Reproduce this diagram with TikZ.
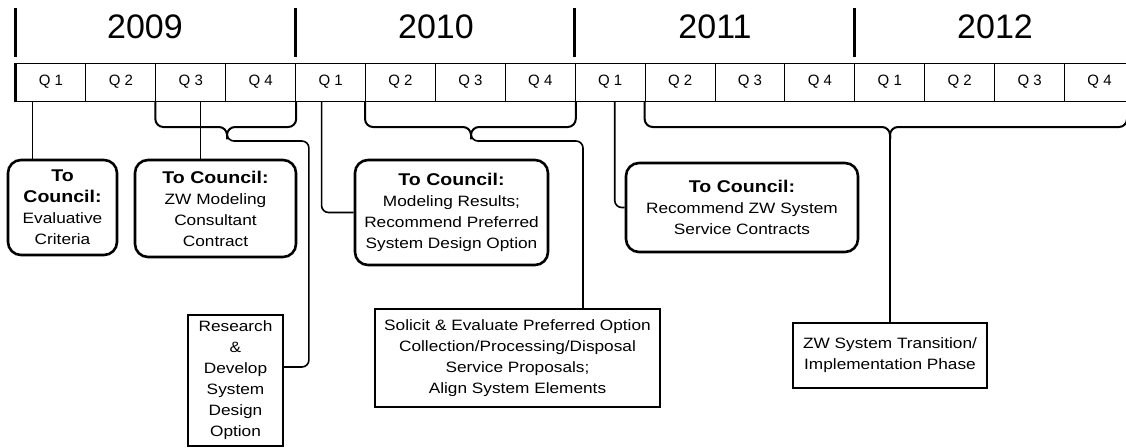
\documentclass[tikz,border=0pt]{standalone}
\usepackage{fontspec}
\setmainfont{Liberation Sans}[FakeStretch=1.15]
\newfontfamily\plainfont{Liberation Sans}
\usepackage{tikz}
\tikzstyle{qcell}=[draw,line width=1pt,minimum width=69.9pt,minimum height=38pt,inner sep=0pt,font=\plainfont\fontsize{15}{18}\selectfont]
\tikzstyle{council}=[draw,line width=2.6pt,rounded corners=13pt,align=center,inner sep=0pt,font=\fontsize{15}{21}\selectfont]
\tikzstyle{taskbox}=[draw,line width=1.8pt,align=center,inner sep=0pt,font=\fontsize{15}{21}\selectfont]
\tikzstyle{quarterbrace}=[line width=2pt,rounded corners=8pt]
\tikzstyle{link}=[line width=1.6pt,rounded corners=7pt]
\newcommand{\hdr}[1]{{\fontsize{17}{21}\selectfont\bfseries #1}}

\begin{document}
\begin{tikzpicture}[x=1pt,y=-1pt]
\clip (0,0) rectangle (1126,447);
\fill[white] (0,0) rectangle (1126,447);
\foreach \i [evaluate=\i as \n using {int(mod(\i,4)+1)}] in {0,...,15}
  \node[qcell] (q\i) at ({51+69.9*\i},82) {Q \n};
\draw[line width=2.5pt] (q0.north west) -- (q0.south west);
\foreach \yr/\xc/\i in {2009/145/0,2010/436/4,2011/715/8,2012/995/12}{
  \draw[line width=2.8pt] ([yshift=6pt]q\i.north west) -- ++(0,-49);
  \node[font=\plainfont\fontsize{34}{34}\selectfont] (y\yr) at (\xc,27) {\yr};
}

\node[council,minimum width=109pt,minimum height=95pt] (crit) at (62.5,207.5)
  {\hdr{To}\\\hdr{Council:}\\Evaluative\\Criteria};
\node[council,minimum width=161pt,minimum height=97pt] (consult) at (215.5,208.5)
  {\hdr{To Council:}\\ZW Modeling\\Consultant\\Contract};
\node[council,minimum width=193pt,minimum height=105pt] (results) at (451.5,212.5)
  {\hdr{To Council:}\\Modeling Results;\\Recommend Preferred\\System Design Option};
\node[council,minimum width=232pt,minimum height=89pt] (services) at (742,207.5)
  {\hdr{To Council:}\\Recommend ZW System\\Service Contracts};
\node[taskbox,minimum width=95pt,minimum height=131pt] (research) at (235.5,380.5)
  {Research\\\&\\Develop\\System\\Design\\Option};
\node[taskbox,minimum width=285pt,minimum height=98pt] (solicit) at (517.5,358)
  {Solicit \& Evaluate Preferred Option\\Collection/Processing/Disposal\\Service Proposals;\\Align System Elements};
\node[taskbox,minimum width=194pt,minimum height=65pt] (transition) at (890,355.5)
  {ZW System Transition/\\Implementation Phase};

\coordinate (c1) at ([xshift=17pt]q0.south west);
\coordinate (c2) at ([xshift=45pt]q2.south west);
\coordinate (c3) at ([xshift=26.4pt]q4.south west);
\coordinate (c4) at ([xshift=40pt]q8.south west);
\draw[link] (c1) -- (c1 |- crit.north);
\draw[link] (c2) -- (c2 |- consult.north);
\draw[link] (c3) |- (results.west);
\draw[link] (c4) |- (services.west);

\coordinate (b1tip) at (227,139);
\coordinate (b2tip) at (471,139);
\coordinate (b3tip) at (890,139);
\coordinate (b3end) at (1127,101);
\draw[quarterbrace] (q2.south west) |- ([yshift=12pt]b1tip) -- (b1tip);
\draw[quarterbrace] (q3.south east) |- ([yshift=12pt]b1tip) -- (b1tip);
\draw[quarterbrace] (q5.south west) |- ([yshift=12pt]b2tip) -- (b2tip);
\draw[quarterbrace] (q7.south east) |- ([yshift=12pt]b2tip) -- (b2tip);
\draw[quarterbrace] (q9.south west) |- ([yshift=12pt]b3tip) -- (b3tip);
\draw[quarterbrace] (b3end) |- ([yshift=12pt]b3tip) -- (b3tip);

\draw[link] (b1tip) -- ++(0,2) -| ([xshift=25pt,yshift=13.5pt]research.east)
  -- ([yshift=13.5pt]research.east);
\draw[link] (b2tip) -- ++(0,2) -| ([xshift=65.5pt]solicit.north);
\draw[link] (b3tip) -- (transition.north);
\end{tikzpicture}
\end{document}
